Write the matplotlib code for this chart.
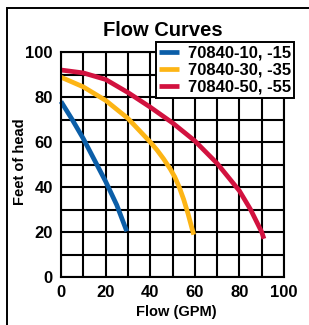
import matplotlib
matplotlib.use("Agg")
import matplotlib.pyplot as plt
from matplotlib.patches import Rectangle

# values
flow_10 = [0, 5, 10, 15, 20, 25, 29.5]
head_10 = [78, 70, 61.5, 52, 42.5, 32, 20.3]

flow_30 = [0, 10, 20, 30, 40, 43, 46, 49, 51, 53, 55, 57, 59.5]
head_30 = [88.8, 84.5, 78.5, 70.5, 60, 56.5, 52.5, 48, 44.5, 40, 34.5, 28, 18.8]

flow_50 = [0, 10, 20, 30, 40, 50, 60, 70, 80, 85, 90, 91]
head_50 = [92, 90.7, 87.8, 82, 75.5, 68.5, 60.5, 50.5, 38.3, 30, 20, 17]

labels = ["70840-10, -15", "70840-30, -35", "70840-50, -55"]
colors = ["#0b5ea8", "#fdb515", "#d2123f"]

major_ticks = [0, 20, 40, 60, 80, 100]

plt.rcParams["font.family"] = ["Liberation Sans", "DejaVu Sans"]

fig = plt.figure(figsize=(3.09, 3.25), dpi=100)
fig.patch.set_facecolor("white")

# outer frame, only its left and top edges fall inside the picture
fig.patches.append(Rectangle((7 / 309, -0.1), 1.2, 1 - 8 / 325 + 0.1,
                             transform=fig.transFigure, fill=False,
                             edgecolor="black", linewidth=1.4))

ax = fig.add_axes([61 / 309, 1 - 277 / 325, 223 / 309, 225 / 325])
ax.set_xlim(0, 100)
ax.set_ylim(0, 100)
ax.set_xticks(range(0, 101, 10))
ax.set_yticks(range(0, 101, 10))
ax.grid(True, color="black", linewidth=1.5)
ax.set_axisbelow(True)
for s in ax.spines.values():
    s.set_linewidth(1.5)
ax.tick_params(length=0, pad=6)
ax.set_xticklabels([str(v) if v in major_ticks else "" for v in range(0, 101, 10)],
                   fontsize=12, fontweight="bold")
ax.set_yticklabels([str(v) if v in major_ticks else "" for v in range(0, 101, 10)],
                   fontsize=12, fontweight="bold")

for fx, hy, lab, c in zip([flow_10, flow_30, flow_50],
                          [head_10, head_30, head_50], labels, colors):
    ax.plot(fx, hy, color=c, linewidth=3.4, label=lab, solid_capstyle="butt",
            solid_joinstyle="round", clip_on=False)

leg = ax.legend(loc="upper right", bbox_to_anchor=(294 / 309, 1 - 42 / 325),
                bbox_transform=fig.transFigure, frameon=True, fancybox=False,
                prop={"size": 12, "weight": "bold"}, handlelength=1.2,
                handletextpad=0.5, borderpad=0.2, labelspacing=0.12,
                borderaxespad=0)
leg.get_frame().set_edgecolor("black")
leg.get_frame().set_linewidth(1.4)
leg.get_frame().set_alpha(1)

fig.text(163 / 309, 1 - 30 / 325, "Flow Curves", ha="center", va="center",
         fontsize=14.5, fontweight="bold")
fig.text(176 / 309, 1 - 312 / 325, "Flow (GPM)", ha="center", va="center",
         fontsize=10.5, fontweight="bold")
fig.text(20 / 309, 1 - 162 / 325, "Feet of head", ha="center", va="center",
         rotation=90, fontsize=10.5, fontweight="bold")

fig.savefig("out.png", dpi=100)
